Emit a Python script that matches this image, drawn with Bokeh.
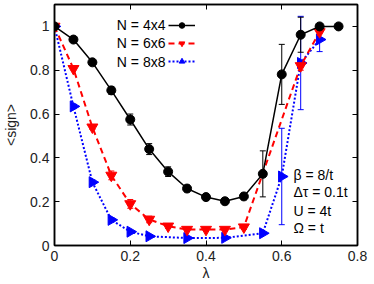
import math
from bokeh.plotting import figure
from bokeh.models import (ColumnDataSource, Whisker, TeeHead, Label, Legend, LegendItem,
                          LinearAxis, FixedTicker, Range1d)
from bokeh.embed import file_html
from bokeh.resources import INLINE

# ---- data ----
lam4 = [0.0, 0.05, 0.1, 0.15, 0.2, 0.25, 0.3, 0.35, 0.4, 0.45, 0.5, 0.55, 0.6, 0.65, 0.7, 0.75]
sign4 = [1.0, 0.94, 0.836, 0.708, 0.575, 0.44, 0.337, 0.26, 0.221, 0.202, 0.224, 0.327, 0.781, 0.962, 1.0, 1.0]
err4 = [0.0, 0.01, 0.01, 0.018, 0.025, 0.025, 0.022, 0.015, 0.015, 0.01, 0.015, 0.105, 0.137, 0.08, 0.01, 0.005]

lam6 = [0.0, 0.05, 0.1, 0.15, 0.2, 0.25, 0.3, 0.35, 0.4, 0.45, 0.5, 0.65, 0.7]
sign6 = [1.0, 0.807, 0.54, 0.32, 0.19, 0.119, 0.088, 0.073, 0.073, 0.073, 0.084, 0.82, 0.975]
err6 = [0.0, 0.005, 0.01, 0.02, 0.02, 0.015, 0.01, 0.01, 0.005, 0.005, 0.01, 0.02, 0.03]

lam8 = [0.0, 0.05, 0.1, 0.15, 0.2, 0.25, 0.35, 0.45, 0.55, 0.6, 0.65, 0.7]
sign8 = [1.0, 0.635, 0.289, 0.117, 0.063, 0.042, 0.034, 0.035, 0.056, 0.315, 0.833, 0.94]
err8 = [0.0, 0.01, 0.01, 0.01, 0.005, 0.005, 0.003, 0.003, 0.005, 0.22, 0.213, 0.055]

series_labels = ["N = 4x4", "N = 6x6", "N = 8x8"]
param_labels = ["\u03b2 = 8/t", "\u0394\u03c4 = 0.1t", "U = 4t", "\u03a9 = t"]
x_ticks = [0.0, 0.2, 0.4, 0.6, 0.8]
x_tick_labels = ["0", "0.2", "0.4", "0.6", "0.8"]
y_ticks = [0.0, 0.2, 0.4, 0.6, 0.8, 1.0]
y_tick_labels = ["0", "0.2", "0.4", "0.6", "0.8", "1"]
x_title = "\u03bb"
y_title = "<sign>"

FONT = "Liberation Sans"
FS = "14px"

p = figure(width=374, height=284, output_backend="svg", toolbar_location=None,
           x_range=Range1d(0, 0.8), y_range=Range1d(0, 1.1),
           min_border_left=51, min_border_right=17, min_border_top=4, min_border_bottom=39,
           x_axis_location=None, y_axis_location=None)
p.grid.visible = False
p.outline_line_color = "black"
p.outline_line_width = 1.5
p.background_fill_color = "white"
p.border_fill_color = "white"


def style_axis(ax, ticks, labels, show_labels):
    ax.ticker = FixedTicker(ticks=ticks)
    ax.major_tick_in = 5
    ax.major_tick_out = 0
    ax.minor_tick_line_color = None
    ax.axis_line_color = "black"
    ax.axis_line_width = 1.5
    ax.major_tick_line_width = 1
    ax.major_label_text_font = FONT
    ax.major_label_text_color = "#222222"
    ax.major_label_text_font_size = FS
    ax.axis_label_text_font = FONT
    ax.axis_label_text_font_size = FS
    ax.axis_label_text_font_style = "normal"
    ax.axis_label_text_color = "#222222"
    if show_labels:
        ax.major_label_overrides = {t: l for t, l in zip(ticks, labels)}
        ax.major_label_standoff = 5
    else:
        ax.major_label_overrides = {t: "" for t in ticks}
        ax.major_label_standoff = 0


xb = LinearAxis(axis_label=x_title, axis_label_standoff=1)
style_axis(xb, x_ticks, x_tick_labels, True)
p.add_layout(xb, "below")
yl = LinearAxis(axis_label=y_title, axis_label_standoff=8)
style_axis(yl, y_ticks, y_tick_labels, True)
p.add_layout(yl, "left")
xa = LinearAxis(); style_axis(xa, x_ticks, x_tick_labels, False); p.add_layout(xa, "above")
yr = LinearAxis(); style_axis(yr, y_ticks, y_tick_labels, False); p.add_layout(yr, "right")

specs = [
    (lam8, sign8, err8, "#0000ff", "dotted", "triangle", -math.pi / 2, 11),
    (lam6, sign6, err6, "#ff0000", "dashed", "inverted_triangle", 0.0, 11),
    (lam4, sign4, err4, "black", "solid", "circle", 0.0, 9),
]
renders = {}
for lam, s, e, col, dash, mk, ang, sz in specs:
    src = ColumnDataSource(dict(x=lam, y=s,
                                lo=[a - b for a, b in zip(s, e)],
                                hi=[a + b for a, b in zip(s, e)]))
    w = Whisker(source=src, base="x", upper="hi", lower="lo", line_color=col, line_width=1,
                upper_head=TeeHead(size=6, line_color=col, line_width=1),
                lower_head=TeeHead(size=6, line_color=col, line_width=1))
    p.add_layout(w)
    ln = p.line("x", "y", source=src, line_color=col,
                line_width=1.5 if dash == "solid" else 2,
                line_dash="solid" if dash == "solid" else ("6 4" if dash == "dashed" else "2 2"))
    sc = p.scatter("x", "y", source=src, marker=mk, size=sz, angle=ang,
                   fill_color=col, line_color=col)
    renders[col] = (ln, sc)

order = ["black", "#ff0000", "#0000ff"]
items = [LegendItem(label=" ", renderers=list(renders[c])) for c in order]
leg = Legend(items=items, location=(114, 177), glyph_width=27, glyph_height=14,
             label_height=14, label_width=0, spacing=4, padding=0, margin=0,
             label_standoff=0, label_text_font_size=FS,
             border_line_alpha=0, background_fill_alpha=0)
p.add_layout(leg, "center")

for lab, yy in zip(series_labels, [221, 202.5, 184]):
    p.add_layout(Label(x=111, y=yy, x_units="screen", y_units="screen", text=lab,
                       text_align="right", text_baseline="middle",
                       text_font=FONT, text_font_size=FS, text_color="black"))

for lab, yy in zip(param_labels, [70.7, 53.3, 35, 17.7]):
    p.add_layout(Label(x=239, y=yy, x_units="screen", y_units="screen", text=lab,
                       text_align="left", text_baseline="middle",
                       text_font=FONT, text_font_size=FS, text_color="black"))

open("out.html", "w").write(file_html(p, INLINE))
